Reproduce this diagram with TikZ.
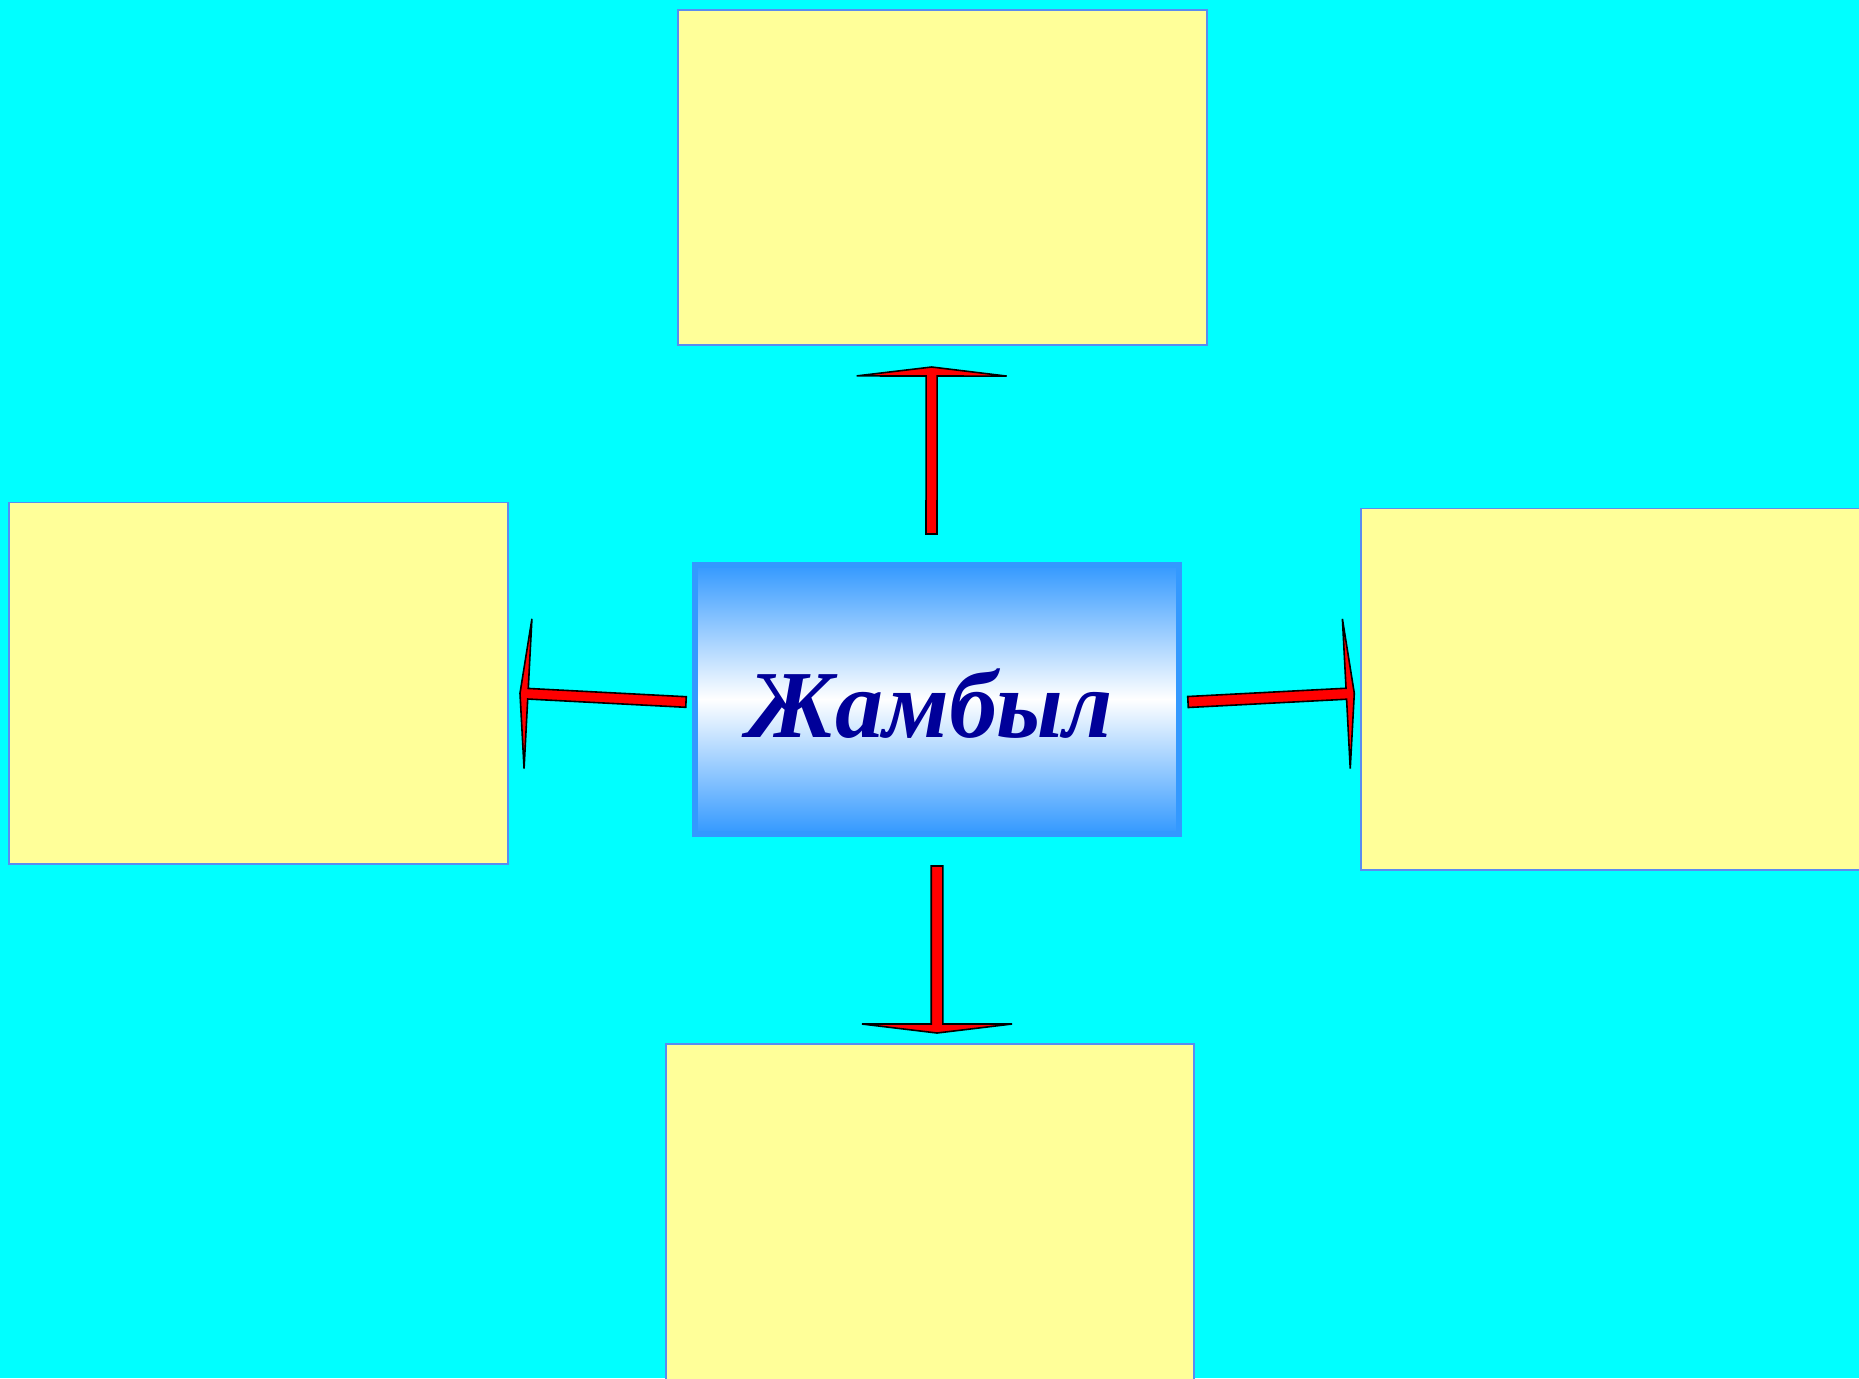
\documentclass[tikz,border=0pt]{standalone}
\usepackage{fontspec}
\setmainfont{Liberation Serif}
\usetikzlibrary{calc}
\definecolor{bg}{RGB}{0,255,255}
\definecolor{boxfill}{RGB}{255,255,153}
\definecolor{boxline}{RGB}{90,140,240}
\definecolor{cblue}{RGB}{51,153,255}
\definecolor{txt}{RGB}{0,0,153}
\newcommand\myblockarrow[5]{%
  \coordinate (hb) at ($(#2)!#5!(#1)$);
  \draw[blockarrow] ($(#1)!#3!90:(#2)$) -- ($(hb)!#3!-90:(#1)$) -- ($(hb)!#4!-90:(#1)$) -- (#2)
    -- ($(hb)!#4!90:(#1)$) -- ($(hb)!#3!90:(#1)$) -- ($(#1)!#3!-90:(#2)$) -- cycle;}
\begin{document}
\begin{tikzpicture}[x=0.5pt,y=-0.5pt,
  infobox/.style={draw=boxline,line width=0.75pt,fill=boxfill,inner sep=0,anchor=north west},
  centerbox/.style={draw=cblue,line width=3pt,top color=cblue,bottom color=cblue,middle color=white,inner sep=0,
    minimum width=242pt,minimum height=134.5pt},
  blockarrow/.style={draw=black,fill=red,line width=0.8pt,line join=miter}]
\fill[bg] (0,0) rectangle (1859,1378);
\useasboundingbox (0,0) rectangle (1859,1378);
% boxes
\node[infobox,minimum width=264.5pt,minimum height=167.5pt] (topbox) at (677,9) {};
\node[infobox,minimum width=249.5pt,minimum height=180.75pt] (leftbox) at (8,501.5) {};
\node[infobox,minimum width=250pt,minimum height=180.75pt] (rightbox) at (1360,507.5) {};
\node[infobox,minimum width=264pt,minimum height=168pt] (bottombox) at (665,1043) {};
% center
\node[centerbox] (center) at (937,699) {};
\node[anchor=base,inner sep=0,text=txt,font=\fontsize{48}{56}\selectfont\bfseries\itshape] (lbl) at (930,737) {Жамбыл};
% arrows
\coordinate (ua1) at (931.5,534); \coordinate (ua2) at (931.7,367);
\coordinate (da1) at (937,866);   \coordinate (da2) at (937,1033);
\coordinate (la1) at (686,702);   \coordinate (la2) at (520,693.3);
\coordinate (ra1) at (1188,702);  \coordinate (ra2) at (1354.3,693.3);
\myblockarrow{ua1}{ua2}{2.75pt}{37.5pt}{4.5pt}
\myblockarrow{da1}{da2}{2.9pt}{37.5pt}{4.5pt}
\myblockarrow{la1}{la2}{2.65pt}{37.5pt}{4pt}
\myblockarrow{ra1}{ra2}{2.75pt}{37.5pt}{4pt}
\end{tikzpicture}
\end{document}
